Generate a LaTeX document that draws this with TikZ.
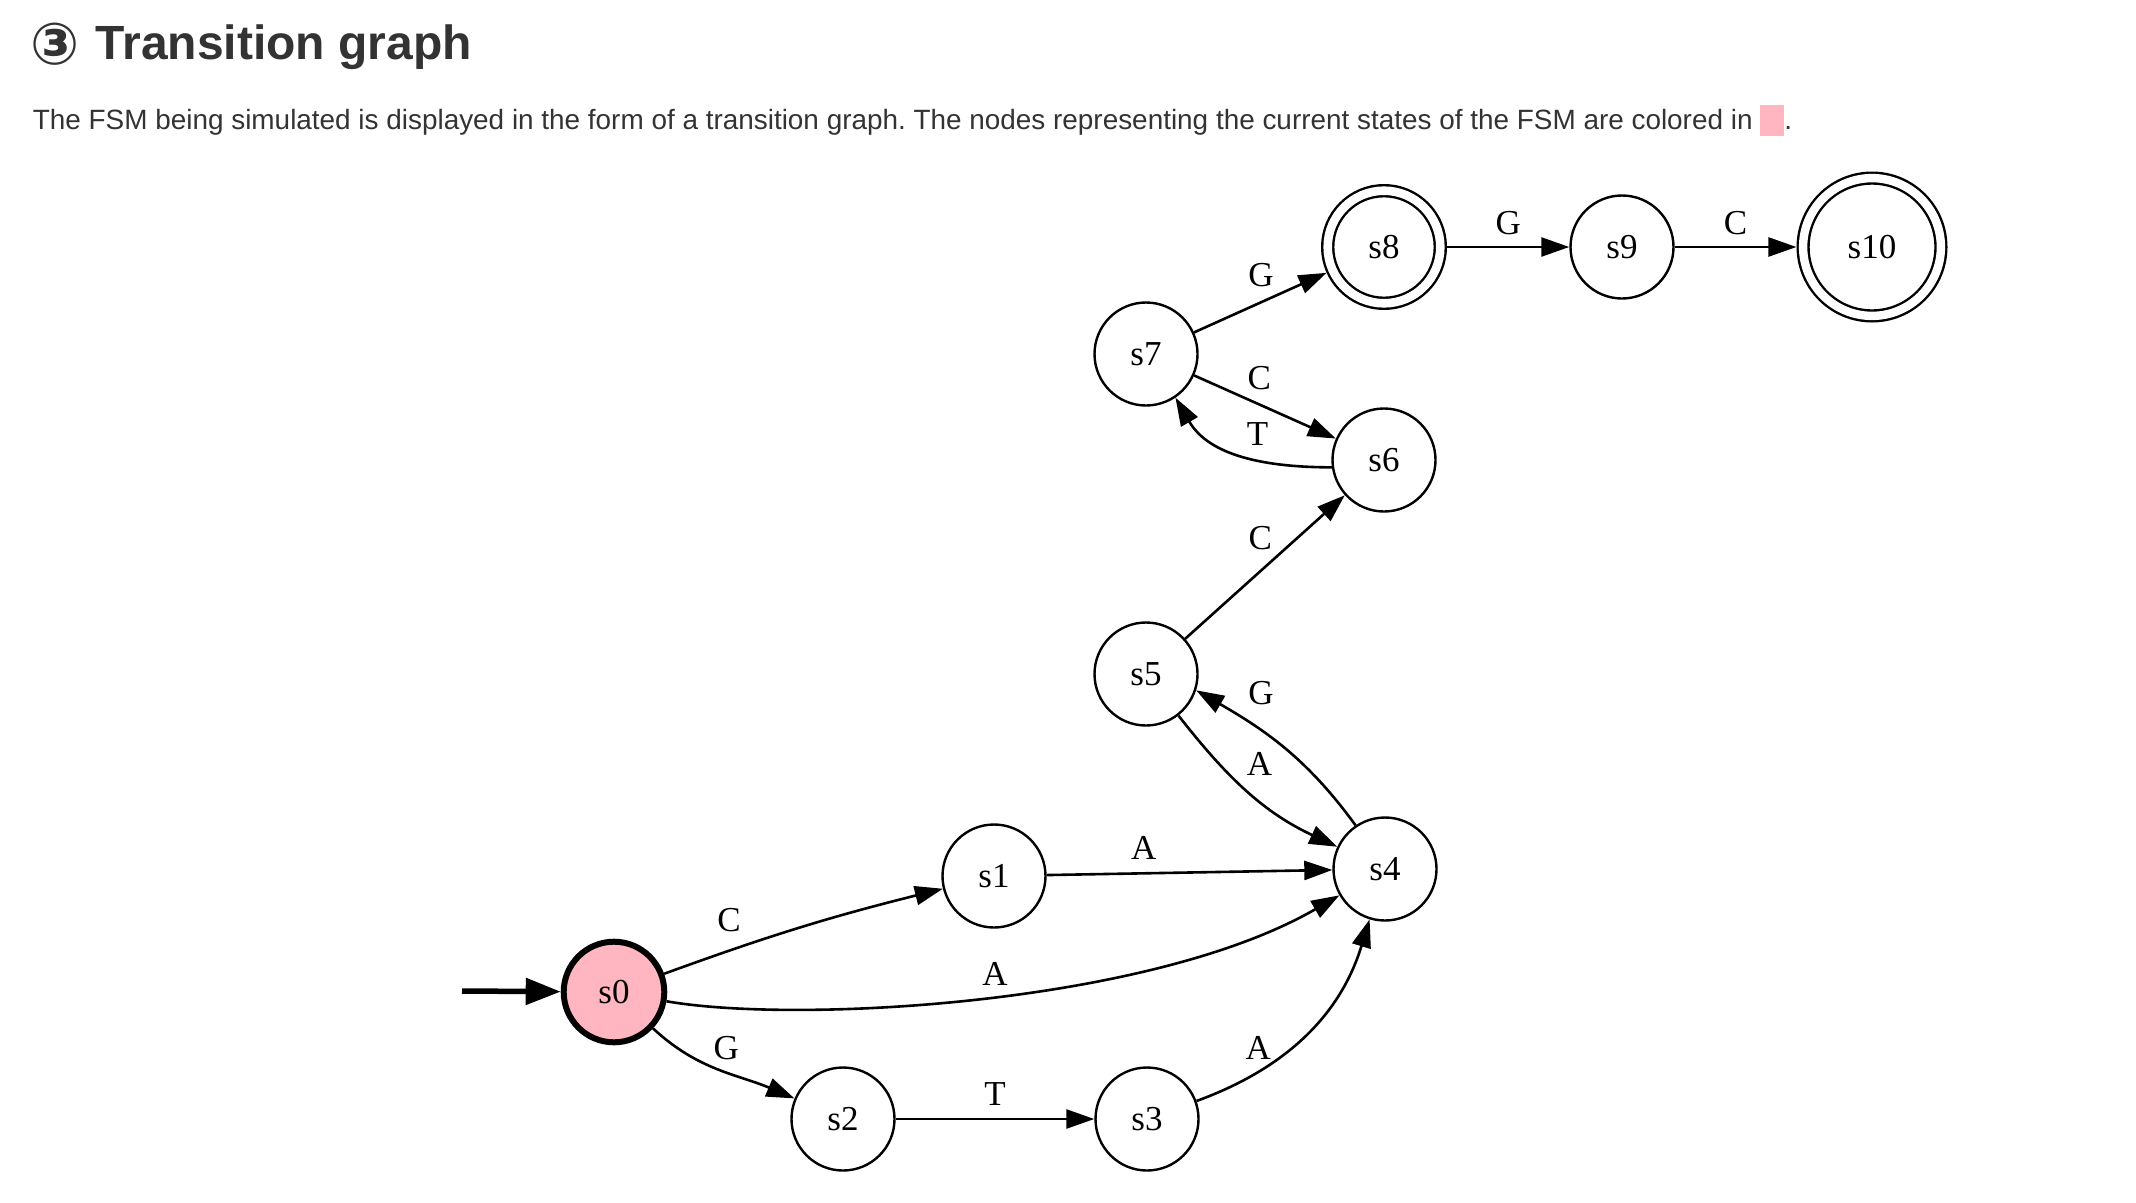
\documentclass[tikz,border=0pt]{standalone}
\usepackage{fontspec}
\setmainfont{Liberation Serif}
\newfontfamily\sansfont{Liberation Sans}
\newfontfamily\symfont{DejaVu Sans}
\usetikzlibrary{arrows.meta,positioning}
\definecolor{ink}{HTML}{333333}
\definecolor{lightpink}{HTML}{FFB6C1}
\frenchspacing
\tikzset{
	state/.style={circle,draw,line width=2.4pt,minimum size=103pt,inner sep=0pt,font=\fontsize{35}{40}\selectfont},
	final/.style={state,double,double distance=8.6pt,minimum size=112.6pt,outer sep=6.7pt},
	current/.style={state,fill=lightpink,line width=6pt,minimum size=100.6pt},
	edge/.style={->,line width=2.6pt},
	lbl/.style={inner sep=0pt,font=\fontsize{35}{40}\selectfont},
}
\begin{document}
\begin{tikzpicture}[x=1pt,y=1pt,>={Triangle[length=28pt,width=19pt]}]
		\fill[white] (0,0) rectangle (2136,-1202);
		\useasboundingbox (0,0) rectangle (2136,-1202);
		% heading and intro
		\node[inner sep=0pt,text=ink,font=\symfont\bfseries\fontsize{58}{66}\selectfont] (num) at (55,-44) {③};
		\node[anchor=base west,inner sep=0pt,text=ink,font=\sansfont\bfseries\fontsize{48}{56}\selectfont] (title) at (95.7,-59.3) {Transition graph};
		\node[anchor=base west,inner sep=0pt,text=ink,font=\sansfont\fontsize{27.9}{34}\selectfont] (intro) at (32.7,-129.3) {The FSM being simulated is displayed in the form of a transition graph. The nodes representing the current states of the FSM are colored in \textcolor{lightpink}{\rule[-6.4pt]{24pt}{30.7pt}}.};
		% states
		\node[current] (s0) at (614,-992) {s0};
		\node[state] (s1) at (994,-876) {s1};
		\node[state] (s2) at (843,-1119) {s2};
		\node[state] (s3) at (1147,-1119) {s3};
		\node[state] (s4) at (1385,-869) {s4};
		\node[state] (s5) at (1146,-674) {s5};
		\node[state] (s6) at (1384,-460) {s6};
		\node[state] (s7) at (1146,-354) {s7};
		\node[final] (s8) at (1384,-247) {s8};
		\node[state] (s9) at (1622,-247) {s9};
		\node[final,minimum size=137.8pt,double distance=8.4pt] (s10) at (1872,-247) {s10};
		\coordinate (start) at (462,-991);
		\draw[-{Triangle[length=35pt,width=26pt]},line width=5.5pt] (start) -- (s0);
		% transitions
		\draw[edge] (s0) to[out=20,in=194] node[lbl,pos=.22,above=18pt] (l01) {C} (s1);
		\draw[edge] (s0) to[out=-10,in=210,out distance=130pt,in distance=220pt] node[lbl,pos=.52,above=9pt] (l04) {A} (s4);
		\draw[edge] (s0) to[out=-43,in=157] node[lbl,pos=.55,above=12pt] (l02) {G} (s2);
		\draw[edge] (s2) -- node[lbl,above=12.5pt] (l23) {T} (s3);
		\draw[edge] (s3) to[out=20,in=-107] node[lbl,pos=.25,above=11pt] (l34) {A} (s4);
		\draw[edge] (s1) -- node[lbl,pos=.34,above=12.5pt] (l14) {A} (s4);
		\draw[edge] (s5) to[out=-52,in=155] node[lbl,pos=.57,above=24pt] (l54) {A} (s4);
		\draw[edge] (s4.124) to[out=126,in=-30] node[lbl,pos=.65,above=25pt] (l45) {G} (s5.-18);
		\draw[edge] (s5) -- node[lbl,pos=.47,above=20pt] (l56) {C} (s6);
		\draw[edge] (s7) -- node[lbl,pos=.46,above=13.3pt] (l76) {C} (s6);
		\draw[edge] (s6.-172) to[out=180,in=-60] node[lbl,pos=.4,above=13pt] (l67) {T} (s7.-56);
		\draw[edge] (s7) -- node[lbl,pos=.505,above=14.5pt] (l78) {G} (s8);
		\draw[edge] (s8) -- node[lbl,above=10.5pt] (l89) {G} (s9);
		\draw[edge] (s9) -- node[lbl,above=10.5pt] (l910) {C} (s10);
\end{tikzpicture}
\end{document}
